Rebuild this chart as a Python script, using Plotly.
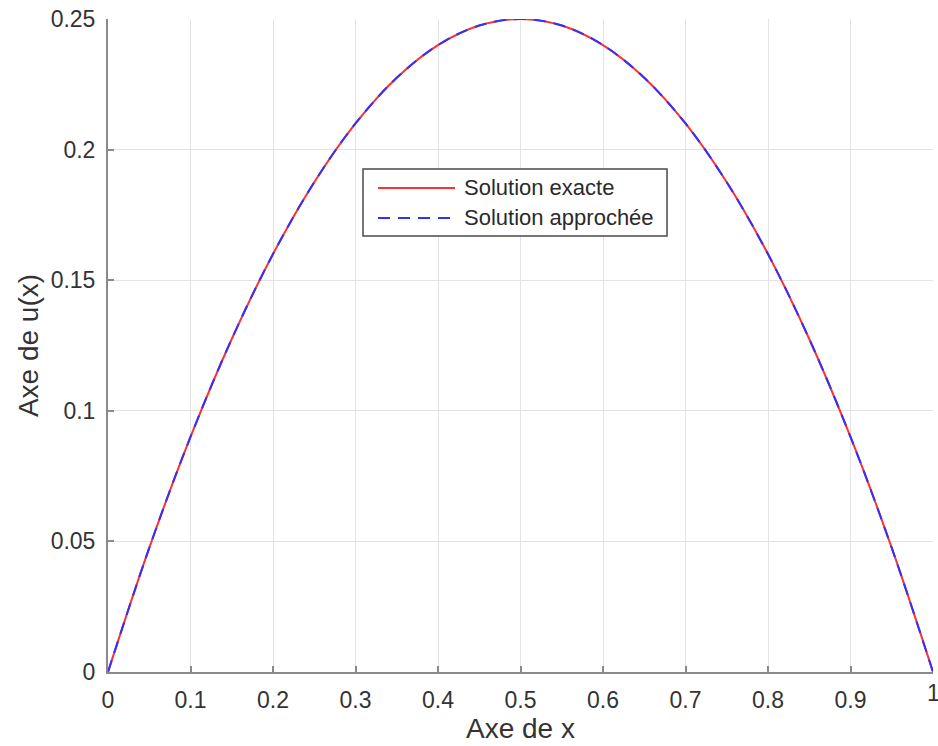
import plotly.graph_objects as go

x_vals = [0.0, 0.05, 0.1, 0.15, 0.2, 0.25, 0.3, 0.35, 0.4, 0.45, 0.5,
          0.55, 0.6, 0.65, 0.7, 0.75, 0.8, 0.85, 0.9, 0.95, 1.0]
u_exacte = [0.0, 0.0475, 0.09, 0.1275, 0.16, 0.1875, 0.21, 0.2275, 0.24, 0.2475, 0.25,
            0.2475, 0.24, 0.2275, 0.21, 0.1875, 0.16, 0.1275, 0.09, 0.0475, 0.0]
u_approchee = [0.0, 0.0475, 0.09, 0.1275, 0.16, 0.1875, 0.21, 0.2275, 0.24, 0.2475, 0.25,
               0.2475, 0.24, 0.2275, 0.21, 0.1875, 0.16, 0.1275, 0.09, 0.0475, 0.0]
x_ticks = [0, 0.1, 0.2, 0.3, 0.4, 0.5, 0.6, 0.7, 0.8, 0.9, 1]
x_ticklabels = ["0", "0.1", "0.2", "0.3", "0.4", "0.5", "0.6", "0.7", "0.8", "0.9", "1"]
y_ticks = [0, 0.05, 0.1, 0.15, 0.2, 0.25]
y_ticklabels = ["0", "0.05", "0.1", "0.15", "0.2", "0.25"]
series_names = ["Solution exacte", "Solution approchée"]

FONT = "Liberation Sans, Arial, sans-serif"
TXT = "#333333"
RED = "#ff3030"
BLUE = "#3030ff"
DASH = "12px,8px"

fig = go.Figure()
fig.add_trace(go.Scatter(x=x_vals, y=u_exacte, mode="lines", name=series_names[0],
                         line=dict(color=RED, width=2, shape="spline")))
fig.add_trace(go.Scatter(x=x_vals, y=u_approchee, mode="lines", name=series_names[1],
                         line=dict(color=BLUE, width=2, dash=DASH, shape="spline")))

axis_common = dict(showgrid=True, gridcolor="#e3e3e3", gridwidth=1, zeroline=False,
                   showline=True, linecolor="#8a8a8a", linewidth=2,
                   ticks="inside", ticklen=6, tickcolor="#8a8a8a", tickwidth=1.5,
                   ticklabelstandoff=6,
                   tickfont=dict(family=FONT, size=23, color=TXT))

fig.update_xaxes(range=[0, 1], tickvals=x_ticks, ticktext=x_ticklabels,
                 title=dict(text="Axe de x", font=dict(family=FONT, size=28, color=TXT), standoff=2),
                 **axis_common)
fig.update_yaxes(range=[0, 0.25], tickvals=y_ticks, ticktext=y_ticklabels,
                 title=dict(text="Axe de u(x)", font=dict(family=FONT, size=28, color=TXT), standoff=4),
                 **axis_common)

# last x tick label, which runs past the right edge of the page
fig.add_annotation(x=x_ticks[-1], y=0, xref="x", yref="paper", text=x_ticklabels[-1],
                   showarrow=False, xanchor="center", yanchor="top", yshift=-6,
                   font=dict(family=FONT, size=23, color=TXT))

# legend drawn in the MATLAB style (long line samples)
fig.add_shape(type="rect", xref="paper", yref="paper", x0=0.3091, x1=0.6776, y0=0.6677, y1=0.7703,
              line=dict(color="#4a4a4a", width=1.5), fillcolor="white", layer="above")
rows = [(0.7412, RED, "solid"), (0.6953, BLUE, DASH)]
for (yy, col, dsh), name in zip(rows, series_names):
    fig.add_shape(type="line", xref="paper", yref="paper", x0=0.3273, x1=0.4206, y0=yy, y1=yy,
                  line=dict(color=col, width=2, dash=dsh), layer="above")
    fig.add_annotation(x=0.4291, y=yy, xref="paper", yref="paper", text=name, showarrow=False,
                       xanchor="left", yanchor="middle",
                       font=dict(family=FONT, size=22, color="#2a2a2a"))

fig.update_layout(
    width=938, height=746,
    margin=dict(l=108, r=5, t=19, b=74),
    plot_bgcolor="white", paper_bgcolor="white",
    showlegend=False,
)

fig.write_html("out.html")
